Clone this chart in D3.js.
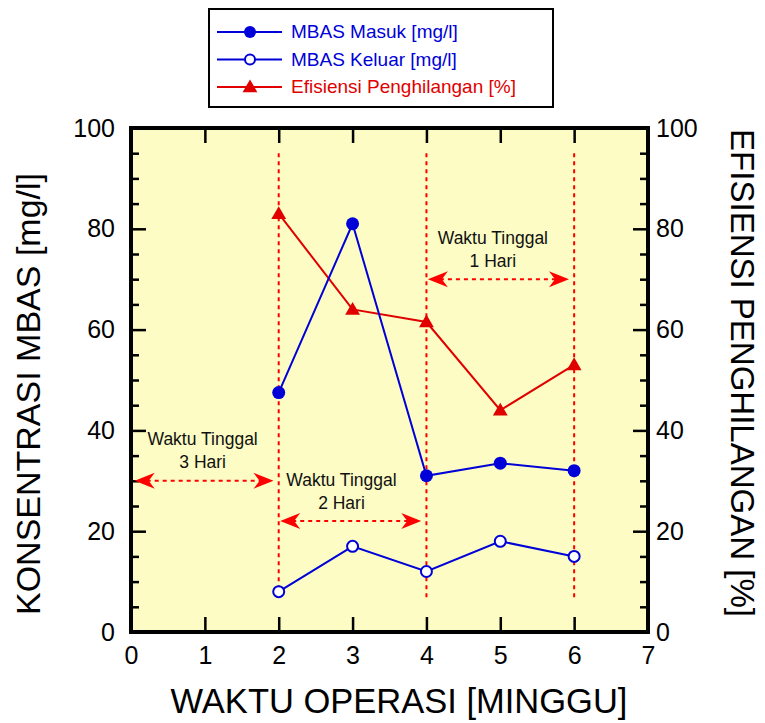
<!DOCTYPE html>
<html>
<head>
<meta charset="utf-8">
<script src="https://cdn.jsdelivr.net/npm/d3@7"></script>
<style>
  body { margin: 0; background: #fff; }
  text { font-family: Arial, "Liberation Sans", sans-serif; }
</style>
</head>
<body>
<div id="chart"></div>
<script>
// data
var weeks = [2, 3, 4, 5, 6];
var mbasMasuk = [47.5, 81, 31, 33.5, 32];
var mbasKeluar = [8, 17, 12, 18, 15];
var efisiensi = [83, 64, 61.5, 44, 53];

var xTicks = [0, 1, 2, 3, 4, 5, 6, 7];
var yTicks = [0, 20, 40, 60, 80, 100];

// residence-time phases
var phaseLines = [2, 4, 6];
var phaseArrows = [
  { x0: 0.05, x1: 1.93, y: 30, labelX: 0.97, label: "3 Hari" },
  { x0: 2.02, x1: 3.93, y: 22, labelX: 2.85, label: "2 Hari" },
  { x0: 4.02, x1: 5.93, y: 70, labelX: 4.9, label: "1 Hari" }
];

var svgWidth = 765;
var svgHeight = 723;
var margin = { top: 128, right: 117, bottom: 91, left: 131 };
var width = svgWidth - margin.left - margin.right;
var height = svgHeight - margin.top - margin.bottom;

var blue = "#0000d8";
var red = "#e00000";

var svg = d3.select("#chart").append("svg")
  .attr("width", svgWidth)
  .attr("height", svgHeight);

var chartGroup = svg.append("g")
  .attr("transform", `translate(${margin.left}, ${margin.top})`);

var x = d3.scaleLinear().domain([0, 7]).range([0, width]);
var yLeft = d3.scaleLinear().domain([0, 100]).range([height, 0]);
var yRight = d3.scaleLinear().domain([0, 100]).range([height, 0]);

// plot background
chartGroup.append("rect")
  .attr("width", width)
  .attr("height", height)
  .attr("fill", "#fcfcc4");

// axes with inward ticks
function styleAxis(g) {
  g.select(".domain").remove();
  g.selectAll(".tick line").attr("stroke", "#000").attr("stroke-width", 2.5);
  g.selectAll(".tick text").attr("fill", "#000").style("font-size", "25px");
}

var minorTicks = d3.range(5, 100, 5).filter(d => d % 20);

chartGroup.append("g")
  .attr("transform", `translate(0, ${height})`)
  .call(d3.axisBottom(x).tickValues(xTicks).tickSizeInner(-15).tickPadding(14).tickFormat(d3.format("d")))
  .call(styleAxis);

chartGroup.append("g")
  .call(d3.axisTop(x).tickValues(xTicks).tickSizeInner(-15).tickFormat(""))
  .call(styleAxis);

chartGroup.append("g")
  .call(d3.axisLeft(yLeft).tickValues(yTicks).tickSizeInner(-15).tickPadding(16))
  .call(styleAxis);

chartGroup.append("g")
  .call(d3.axisLeft(yLeft).tickValues(minorTicks).tickSizeInner(-8).tickFormat(""))
  .call(styleAxis);

chartGroup.append("g")
  .attr("transform", `translate(${width}, 0)`)
  .call(d3.axisRight(yRight).tickValues(yTicks).tickSizeInner(-15).tickPadding(8))
  .call(styleAxis);

chartGroup.append("g")
  .attr("transform", `translate(${width}, 0)`)
  .call(d3.axisRight(yRight).tickValues(minorTicks).tickSizeInner(-8).tickFormat(""))
  .call(styleAxis);

// phase separators
chartGroup.selectAll(".phase-line")
  .data(phaseLines)
  .enter()
  .append("line")
  .attr("x1", d => x(d)).attr("x2", d => x(d))
  .attr("y1", yLeft(95)).attr("y2", yLeft(6.5))
  .attr("stroke", "#ff0000")
  .attr("stroke-width", 2)
  .attr("stroke-dasharray", "4,4");

// barbed arrow head pointing in direction dir (+1 right, -1 left)
function arrowHead(px, py, dir) {
  var L = 20, W = 8, N = 6;
  return "M" + px + "," + py +
    "L" + (px - dir * L) + "," + (py - W) +
    "L" + (px - dir * (L - N)) + "," + py +
    "L" + (px - dir * L) + "," + (py + W) + "Z";
}

var arrows = chartGroup.selectAll(".phase-arrow")
  .data(phaseArrows)
  .enter()
  .append("g");

arrows.append("line")
  .attr("x1", d => x(d.x0) + 12).attr("x2", d => x(d.x1) - 12)
  .attr("y1", d => yLeft(d.y)).attr("y2", d => yLeft(d.y))
  .attr("stroke", "#ff0000")
  .attr("stroke-width", 2)
  .attr("stroke-dasharray", "4,4");

arrows.append("path")
  .attr("d", d => arrowHead(x(d.x0), yLeft(d.y), -1))
  .attr("fill", "#ff0000");

arrows.append("path")
  .attr("d", d => arrowHead(x(d.x1), yLeft(d.y), 1))
  .attr("fill", "#ff0000");

arrows.append("text")
  .attr("x", d => x(d.labelX))
  .attr("y", d => yLeft(d.y) - 40)
  .attr("text-anchor", "middle")
  .attr("dominant-baseline", "middle")
  .style("font-size", "17.5px")
  .attr("fill", "#111")
  .text("Waktu Tinggal");

arrows.append("text")
  .attr("x", d => x(d.labelX))
  .attr("y", d => yLeft(d.y) - 17)
  .attr("text-anchor", "middle")
  .attr("dominant-baseline", "middle")
  .style("font-size", "17.5px")
  .attr("fill", "#111")
  .text(d => d.label);

// series lines
function series(values, scale) {
  return weeks.map((w, i) => [x(w), scale(values[i])]);
}
var line = d3.line();

chartGroup.append("path")
  .attr("d", line(series(efisiensi, yRight)))
  .attr("fill", "none").attr("stroke", red).attr("stroke-width", 2);

chartGroup.append("path")
  .attr("d", line(series(mbasMasuk, yLeft)))
  .attr("fill", "none").attr("stroke", blue).attr("stroke-width", 2);

chartGroup.append("path")
  .attr("d", line(series(mbasKeluar, yLeft)))
  .attr("fill", "none").attr("stroke", blue).attr("stroke-width", 2);

var triangle = d3.symbol().type(d3.symbolTriangle).size(95);

chartGroup.selectAll(".eff")
  .data(series(efisiensi, yRight))
  .enter()
  .append("path")
  .attr("d", triangle)
  .attr("transform", d => `translate(${d[0]}, ${d[1] + 1})`)
  .attr("fill", red);

chartGroup.selectAll(".masuk")
  .data(series(mbasMasuk, yLeft))
  .enter()
  .append("circle")
  .attr("cx", d => d[0]).attr("cy", d => d[1])
  .attr("r", 6.5)
  .attr("fill", blue);

chartGroup.selectAll(".keluar")
  .data(series(mbasKeluar, yLeft))
  .enter()
  .append("circle")
  .attr("cx", d => d[0]).attr("cy", d => d[1])
  .attr("r", 5.5)
  .attr("fill", "#fff")
  .attr("stroke", blue)
  .attr("stroke-width", 2);

// frame
chartGroup.append("rect")
  .attr("width", width)
  .attr("height", height)
  .attr("fill", "none")
  .attr("stroke", "#000")
  .attr("stroke-width", 4);

// axis titles
svg.append("text")
  .attr("x", 399)
  .attr("y", 713)
  .attr("text-anchor", "middle")
  .style("font-size", "34.5px")
  .text("WAKTU OPERASI [MINGGU]");

svg.append("text")
  .attr("transform", `translate(40, 394) rotate(-90)`)
  .attr("text-anchor", "middle")
  .style("font-size", "34px")
  .text("KONSENTRASI MBAS [mg/l]");

svg.append("text")
  .attr("transform", `translate(731, 373) rotate(90)`)
  .attr("text-anchor", "middle")
  .style("font-size", "33px")
  .text("EFISIENSI PENGHILANGAN [%]");

// legend
var legendItems = [
  { label: "MBAS Masuk [mg/l]", color: blue, marker: "filled" },
  { label: "MBAS Keluar [mg/l]", color: blue, marker: "open" },
  { label: "Efisiensi Penghilangan [%]", color: red, marker: "triangle" }
];

var legend = svg.append("g").attr("transform", "translate(209, 9)");

legend.append("rect")
  .attr("width", 344)
  .attr("height", 98)
  .attr("fill", "#fff")
  .attr("stroke", "#000")
  .attr("stroke-width", 2);

var rows = legend.selectAll(".row")
  .data(legendItems)
  .enter()
  .append("g")
  .attr("transform", (d, i) => `translate(0, ${23 + i * 27.5})`);

rows.append("line")
  .attr("x1", 8).attr("x2", 73)
  .attr("stroke", d => d.color)
  .attr("stroke-width", 2);

rows.each(function(d) {
  var g = d3.select(this);
  if (d.marker === "filled") {
    g.append("circle").attr("cx", 41).attr("r", 6).attr("fill", d.color);
  } else if (d.marker === "open") {
    g.append("circle").attr("cx", 41).attr("r", 5).attr("fill", "#fff")
      .attr("stroke", d.color).attr("stroke-width", 2);
  } else {
    g.append("path").attr("d", d3.symbol().type(d3.symbolTriangle).size(95))
      .attr("transform", "translate(41, 1)").attr("fill", d.color);
  }
});

rows.append("text")
  .attr("x", 82)
  .attr("dominant-baseline", "middle")
  .attr("dy", 1)
  .style("font-size", "19px")
  .attr("fill", d => d.color)
  .text(d => d.label);
</script>
</body>
</html>
